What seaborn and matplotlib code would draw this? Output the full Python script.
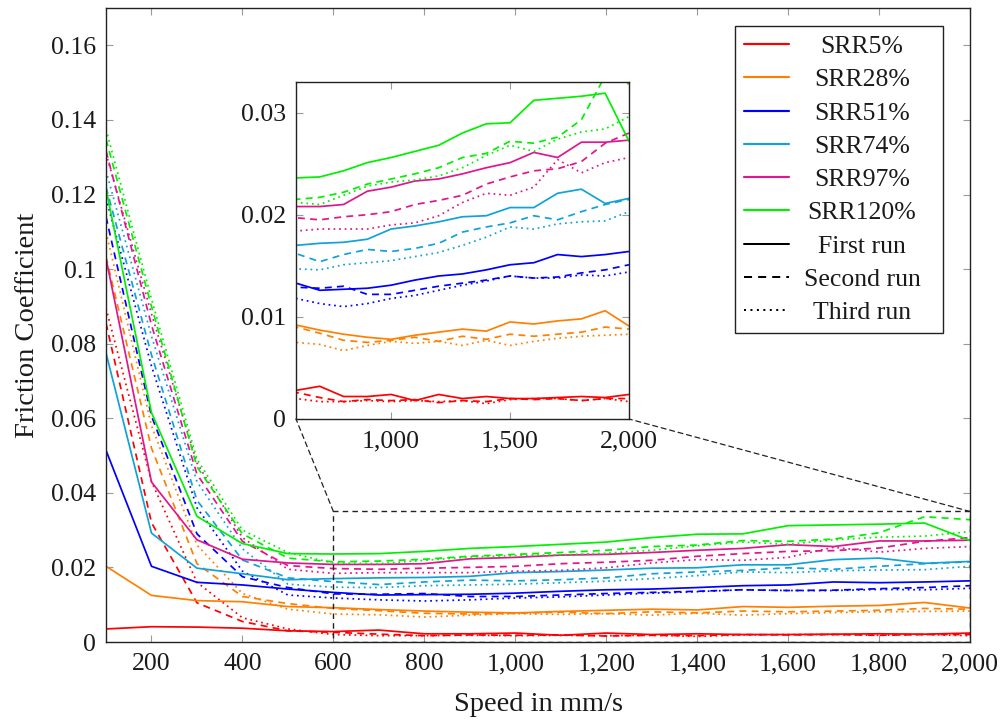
import matplotlib
matplotlib.use("Agg")
import matplotlib.pyplot as plt
import numpy as np
import pandas as pd
import seaborn as sns
from matplotlib.ticker import FuncFormatter, FixedLocator
from matplotlib.patches import ConnectionPatch, Rectangle
from matplotlib.lines import Line2D

sns.set_theme(style="ticks")
plt.rcParams["font.family"] = ["Liberation Serif", "DejaVu Serif"]

# ---------------------------------------------------------------- data
speed = [100, 200, 300, 400, 500, 600, 700, 800, 900, 1000,
         1100, 1200, 1300, 1400, 1500, 1600, 1700, 1800, 1900, 2000]

srr_labels = ["SRR5%", "SRR28%", "SRR51%", "SRR74%", "SRR97%", "SRR120%"]
run_labels = ["First run", "Second run", "Third run"]

srr5_run1 = [0.0035, 0.0041, 0.0040, 0.0037, 0.0030, 0.0028, 0.0032, 0.0022, 0.0022, 0.0024,
             0.0018, 0.0024, 0.0020, 0.0022, 0.0020, 0.0020, 0.0021, 0.0022, 0.0021, 0.0024]
srr5_run2 = [0.0855, 0.0320, 0.0105, 0.0055, 0.0030, 0.0026, 0.0021, 0.0017, 0.0019, 0.0018,
             0.0019, 0.0016, 0.0018, 0.0017, 0.0020, 0.0019, 0.0020, 0.0018, 0.0020, 0.0020]
srr5_run3 = [0.0895, 0.0430, 0.0160, 0.0065, 0.0035, 0.0020, 0.0017, 0.0017, 0.0018, 0.0017,
             0.0018, 0.0017, 0.0018, 0.0015, 0.0019, 0.0020, 0.0020, 0.0018, 0.0020, 0.0017]

srr28_run1 = [0.0203, 0.0125, 0.0111, 0.0108, 0.0095, 0.0092, 0.0087, 0.0083, 0.0080, 0.0078,
              0.0082, 0.0085, 0.0088, 0.0086, 0.0095, 0.0093, 0.0096, 0.0098, 0.0106, 0.0091]
srr28_run2 = [0.1033, 0.0520, 0.0210, 0.0122, 0.0103, 0.0090, 0.0084, 0.0077, 0.0075, 0.0077,
              0.0080, 0.0076, 0.0081, 0.0078, 0.0083, 0.0081, 0.0083, 0.0085, 0.0090, 0.0088]
srr28_run3 = [0.1100, 0.0580, 0.0260, 0.0130, 0.0088, 0.0075, 0.0073, 0.0067, 0.0072, 0.0076,
              0.0074, 0.0076, 0.0072, 0.0077, 0.0072, 0.0076, 0.0079, 0.0081, 0.0082, 0.0083]

srr51_run1 = [0.0514, 0.0203, 0.0160, 0.0153, 0.0142, 0.0133, 0.0126, 0.0127, 0.0128, 0.0131,
              0.0136, 0.0140, 0.0142, 0.0146, 0.0151, 0.0153, 0.0161, 0.0159, 0.0161, 0.0164]
srr51_run2 = [0.1140, 0.0606, 0.0290, 0.0175, 0.0146, 0.0129, 0.0128, 0.0130, 0.0122, 0.0122,
              0.0126, 0.0130, 0.0133, 0.0136, 0.0140, 0.0138, 0.0139, 0.0143, 0.0146, 0.0151]
srr51_run3 = [0.1190, 0.0740, 0.0360, 0.0190, 0.0126, 0.0118, 0.0113, 0.0110, 0.0113, 0.0118,
              0.0121, 0.0126, 0.0131, 0.0135, 0.0140, 0.0138, 0.0138, 0.0141, 0.0140, 0.0144]

srr74_run1 = [0.0775, 0.0292, 0.0198, 0.0183, 0.0167, 0.0170, 0.0172, 0.0173, 0.0176, 0.0186,
              0.0189, 0.0193, 0.0198, 0.0199, 0.0207, 0.0207, 0.0221, 0.0225, 0.0211, 0.0216]
srr74_run2 = [0.1220, 0.0770, 0.0380, 0.0220, 0.0172, 0.0162, 0.0154, 0.0161, 0.0166, 0.0164,
              0.0167, 0.0172, 0.0183, 0.0188, 0.0192, 0.0199, 0.0195, 0.0203, 0.0210, 0.0215]
srr74_run3 = [0.1264, 0.0820, 0.0430, 0.0250, 0.0155, 0.0147, 0.0146, 0.0151, 0.0153, 0.0155,
              0.0159, 0.0163, 0.0170, 0.0178, 0.0188, 0.0186, 0.0191, 0.0193, 0.0194, 0.0203]

srr97_run1 = [0.1029, 0.0429, 0.0274, 0.0222, 0.0212, 0.0208, 0.0208, 0.0210, 0.0223, 0.0227,
              0.0233, 0.0235, 0.0240, 0.0246, 0.0251, 0.0261, 0.0256, 0.0271, 0.0271, 0.0273]
srr97_run2 = [0.1317, 0.0850, 0.0450, 0.0270, 0.0205, 0.0197, 0.0195, 0.0198, 0.0200, 0.0203,
              0.0210, 0.0214, 0.0219, 0.0230, 0.0237, 0.0243, 0.0245, 0.0252, 0.0270, 0.0280]
srr97_run3 = [0.1310, 0.0880, 0.0480, 0.0280, 0.0195, 0.0184, 0.0186, 0.0186, 0.0186, 0.0190,
              0.0192, 0.0199, 0.0212, 0.0221, 0.0219, 0.0227, 0.0254, 0.0241, 0.0251, 0.0256]

srr120_run1 = [0.1215, 0.0615, 0.0337, 0.0264, 0.0237, 0.0236, 0.0237, 0.0243, 0.0251, 0.0256,
               0.0262, 0.0268, 0.0280, 0.0289, 0.0290, 0.0312, 0.0314, 0.0316, 0.0319, 0.0272]
srr120_run2 = [0.1348, 0.0900, 0.0470, 0.0290, 0.0225, 0.0215, 0.0217, 0.0222, 0.0230, 0.0235,
               0.0240, 0.0246, 0.0256, 0.0260, 0.0272, 0.0270, 0.0276, 0.0293, 0.0336, 0.0328]
srr120_run3 = [0.1375, 0.0920, 0.0490, 0.0300, 0.0240, 0.0212, 0.0210, 0.0219, 0.0228, 0.0232,
               0.0234, 0.0238, 0.0246, 0.0258, 0.0268, 0.0262, 0.0274, 0.0281, 0.0284, 0.0296]

series = {
    "SRR5%": [srr5_run1, srr5_run2, srr5_run3],
    "SRR28%": [srr28_run1, srr28_run2, srr28_run3],
    "SRR51%": [srr51_run1, srr51_run2, srr51_run3],
    "SRR74%": [srr74_run1, srr74_run2, srr74_run3],
    "SRR97%": [srr97_run1, srr97_run2, srr97_run3],
    "SRR120%": [srr120_run1, srr120_run2, srr120_run3],
}

main_yticks = [0, 0.02, 0.04, 0.06, 0.08, 0.1, 0.12, 0.14, 0.16]
main_xticks = [200, 400, 600, 800, 1000, 1200, 1400, 1600, 1800, 2000]
inset_yticks = [0, 0.01, 0.02, 0.03]
inset_xticks = [1000, 1500, 2000]

# ---------------------------------------------------------------- styling
colors = {
    "SRR5%": "#ff0000",
    "SRR28%": "#ff8000",
    "SRR51%": "#0000ff",
    "SRR74%": "#10a2d8",
    "SRR97%": "#e0168c",
    "SRR120%": "#00f000",
}
styles = {
    "First run": "-",
    "Second run": (0, (4.0, 3.0)),
    "Third run": (0, (1.0, 2.2)),
}
LW = 1.25
FS = 18.5          # tick labels and legend
FS_LABEL = 20.5    # axis titles

rows = []
for srr, runs in series.items():
    for run, vals in zip(run_labels, runs):
        for s, v in zip(speed, vals):
            rows.append({"speed": s, "cof": v, "srr": srr, "run": run})
df = pd.DataFrame(rows)


def draw_lines(axis):
    for srr in srr_labels:
        for run in run_labels:
            sub = df[(df["srr"] == srr) & (df["run"] == run)]
            sns.lineplot(data=sub, x="speed", y="cof", ax=axis, color=colors[srr],
                         linestyle=styles[run], linewidth=LW, errorbar=None,
                         sort=False, legend=False)
    axis.set_xlabel("")
    axis.set_ylabel("")


def style_axis(axis):
    axis.tick_params(direction="in", top=True, right=True, length=5, width=0.8,
                     color="#9a9a9a", labelsize=FS, labelcolor="#1a1a1a")
    axis.tick_params(axis="x", pad=8)
    axis.tick_params(axis="y", pad=7)
    for sp in axis.spines.values():
        sp.set_color("#222222")
        sp.set_linewidth(1.0)


def fmt_y(v, _):
    return "0" if abs(v) < 1e-12 else f"{v:g}"


def fmt_x(v, _):
    return f"{int(round(v)):,}"


fig = plt.figure(figsize=(10.02, 7.22), dpi=100)
ax = fig.add_axes([0.1058, 0.1108, 0.8623, 0.878])
draw_lines(ax)
ax.set_xlim(100, 2000)
ax.set_ylim(0, 0.17)
ax.xaxis.set_major_locator(FixedLocator(main_xticks))
ax.yaxis.set_major_locator(FixedLocator(main_yticks))
ax.xaxis.set_major_formatter(FuncFormatter(fmt_x))
ax.yaxis.set_major_formatter(FuncFormatter(fmt_y))
style_axis(ax)
ax.set_xlabel("Speed in mm/s", fontsize=FS_LABEL, color="#1a1a1a", labelpad=12)
ax.set_ylabel("Friction Coefficient", fontsize=FS_LABEL, color="#1a1a1a", labelpad=8)

# zoom window marker
ax.add_patch(Rectangle((600, 0), 1400, 0.035, fill=False, edgecolor="#222222",
                       linewidth=1.0, linestyle=(0, (4, 3)), zorder=4))

# inset with the high-speed region
axins = fig.add_axes([0.2954, 0.4197, 0.3323, 0.4668], zorder=5)
axins.set_facecolor("white")
draw_lines(axins)
axins.set_xlim(600, 2000)
axins.set_ylim(0, 0.033)
axins.xaxis.set_major_locator(FixedLocator(inset_xticks))
axins.yaxis.set_major_locator(FixedLocator(inset_yticks))
axins.xaxis.set_major_formatter(FuncFormatter(fmt_x))
axins.yaxis.set_major_formatter(FuncFormatter(fmt_y))
style_axis(axins)

for xa, xb in [((600, 0.035), (0, 0)), ((2000, 0.035), (1, 0))]:
    con = ConnectionPatch(xyA=xa, coordsA=ax.transData, xyB=xb, coordsB=axins.transAxes,
                          color="#222222", linewidth=0.9, linestyle=(0, (4, 3)))
    fig.add_artist(con)

# legend
handles = [Line2D([], [], color=colors[s], lw=LW + 0.3) for s in srr_labels]
handles += [Line2D([], [], color="black", lw=LW + 0.2, linestyle=styles[r]) for r in run_labels]
leg = ax.legend(handles, srr_labels + run_labels, loc="upper right",
                bbox_to_anchor=(943 / 1002, 1 - 26 / 722), bbox_transform=fig.transFigure,
                borderaxespad=0, fancybox=False, framealpha=1, edgecolor="#222222",
                fontsize=FS, handlelength=1.75, handletextpad=1.09, labelspacing=0.40,
                borderpad=0.35)
leg.get_frame().set_linewidth(1.0)
leg.set_zorder(10)
for t in leg.get_texts():
    t.set_color("#1a1a1a")

# centre every legend entry on a common vertical axis
fig.canvas.draw()
renderer = fig.canvas.get_renderer()
frame_bb = leg.get_frame().get_window_extent(renderer)
text_center = frame_bb.x1 - 81
for t in leg.get_texts():
    bb = t.get_window_extent(renderer)
    t.set_x(t.get_position()[0] + text_center - (bb.x0 + bb.x1) / 2)

fig.savefig("out.png", dpi=100, facecolor="white")
